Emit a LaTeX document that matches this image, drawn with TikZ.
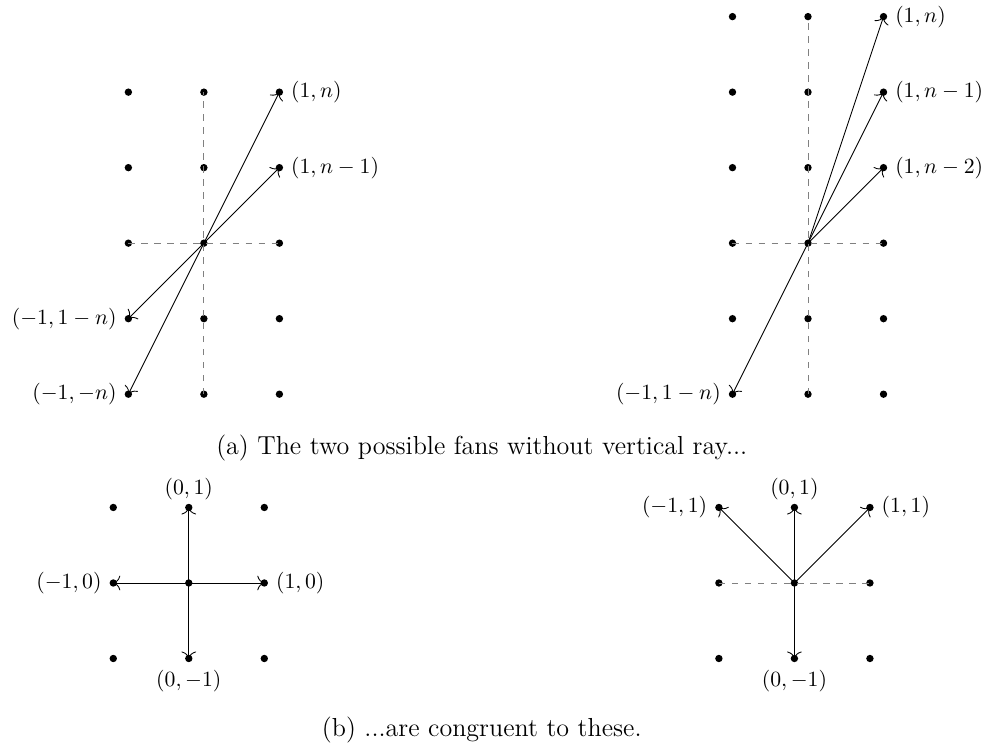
\documentclass[tikz,border=0pt]{standalone}
\usepackage{amsmath}
\usepackage{amssymb}
\usepackage{tikz}
\usetikzlibrary{positioning, arrows.meta}

\tikzset{
  pt/.style={circle, fill, inner sep=0pt, minimum size=3.4pt},
  ray/.style={-{To[scale=1.3]}},
  aux/.style={dashed, gray},
  captxt/.style={font=\large},
}

\begin{document}
\begin{tikzpicture}[x=1.223cm, y=1.223cm]
      \useasboundingbox (0,0) rectangle (13.11,-9.92);
      \begin{scope}[shift={(2.70,-3.22)}]
        \foreach \i in {1,2,3} \foreach \j in {1,...,5}
          \node[pt] (tl-\i-\j) at (\i-2,\j-3) {};
        \draw[aux] (tl-2-1.center) -- (tl-2-5.center);
        \draw[aux] (tl-1-3.center) -- (tl-3-3.center);
        \foreach \t in {3-5, 3-4, 1-2, 1-1}
          \draw[ray] (tl-2-3.center) -- (tl-\t.center);
        \node[right=0pt of tl-3-5] (tl-n) {$(1,n)$};
        \node[right=0pt of tl-3-4] (tl-n1) {$(1,n-1)$};
        \node[left=0pt of tl-1-2] (tl-m1) {$(-1,1-n)$};
        \node[left=0pt of tl-1-1] (tl-m) {$(-1,-n)$};
      \end{scope}
      \begin{scope}[shift={(10.70,-3.22)}]
        \foreach \i in {1,2,3} \foreach \j in {1,...,6}
          \node[pt] (tr-\i-\j) at (\i-2,\j-3) {};
        \draw[aux] (tr-2-1.center) -- (tr-2-6.center);
        \draw[aux] (tr-1-3.center) -- (tr-3-3.center);
        \foreach \t in {3-6, 3-5, 3-4, 1-1}
          \draw[ray] (tr-2-3.center) -- (tr-\t.center);
        \node[right=0pt of tr-3-6] (tr-n) {$(1,n)$};
        \node[right=0pt of tr-3-5] (tr-n1) {$(1,n-1)$};
        \node[right=0pt of tr-3-4] (tr-n2) {$(1,n-2)$};
        \node[left=0pt of tr-1-1] (tr-m1) {$(-1,1-n)$};
      \end{scope}
      \node[captxt] (cap-a) at (6.38,-5.93) {(a) The two possible fans without vertical ray...};
      \begin{scope}[shift={(2.50,-7.72)}]
        \foreach \i in {1,2,3} \foreach \j in {1,2,3}
          \node[pt] (bl-\i-\j) at (\i-2,\j-2) {};
        \foreach \t in {2-3, 3-2, 1-2, 2-1}
          \draw[ray] (bl-2-2.center) -- (bl-\t.center);
        \node[above=-2pt of bl-2-3] (bl-n) {$(0,1)$};
        \node[right=0pt of bl-3-2] (bl-e) {$(1,0)$};
        \node[left=0pt of bl-1-2] (bl-w) {$(-1,0)$};
        \node[below=0pt of bl-2-1] (bl-s) {$(0,-1)$};
      \end{scope}
      \begin{scope}[shift={(10.52,-7.72)}]
        \foreach \i in {1,2,3} \foreach \j in {1,2,3}
          \node[pt] (br-\i-\j) at (\i-2,\j-2) {};
        \draw[aux] (br-1-2.center) -- (br-3-2.center);
        \foreach \t in {1-3, 2-3, 3-3, 2-1}
          \draw[ray] (br-2-2.center) -- (br-\t.center);
        \node[left=0pt of br-1-3] (br-nw) {$(-1,1)$};
        \node[above=-2pt of br-2-3] (br-n) {$(0,1)$};
        \node[right=0pt of br-3-3] (br-ne) {$(1,1)$};
        \node[below=0pt of br-2-1] (br-s) {$(0,-1)$};
      \end{scope}
      \node[captxt] (cap-b) at (6.38,-9.67) {(b) ...are congruent to these.};
    \end{tikzpicture}
\end{document}
